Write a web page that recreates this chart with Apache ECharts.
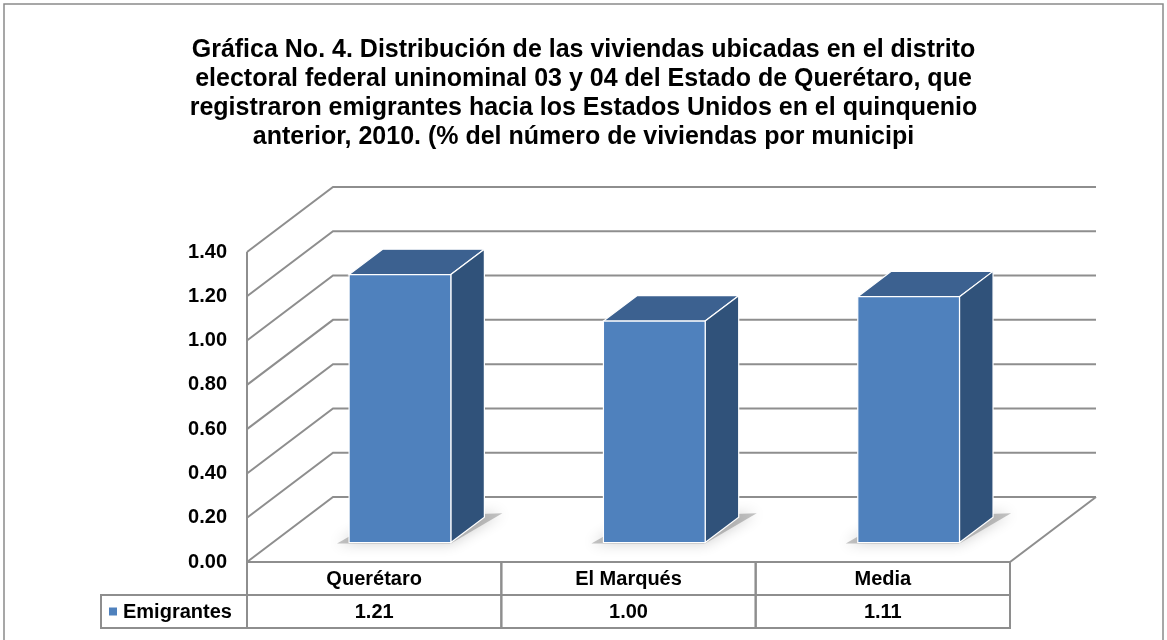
<!DOCTYPE html>
<html>
<head>
<meta charset="utf-8">
<title>Gráfica No. 4</title>
<script src="https://cdn.jsdelivr.net/npm/echarts@6/dist/echarts.min.js"></script>
<style>
  html, body { margin: 0; padding: 0; background: #fff; }
  #chart { width: 1167px; height: 640px; }
</style>
</head>
<body>
<div id="chart"></div>
<script>
// datos
const categories = ["Querétaro", "El Marqués", "Media"];
const emigrantes = [1.21, 1.00, 1.11];
const yTicks = [0, 0.2, 0.4, 0.6, 0.8, 1.0, 1.2, 1.4];
const seriesName = "Emigrantes";
const titleText = "Gráfica No. 4. Distribución de las viviendas ubicadas en el distrito\n" +
  "electoral federal uninominal 03 y 04 del Estado de Querétaro, que\n" +
  "registraron emigrantes hacia los Estados Unidos en el quinquenio\n" +
  "anterior, 2010. (% del número de viviendas por municipi";

// perspectiva (profundidad del piso)
const DX = 86, DY = -65;
const FRONT = 0.3, BACK = 0.69; // fraccion de profundidad de la barra
const GRID = "#8e8e8e";
const FONT = "Liberation Sans, Arial, sans-serif";
const ROW_H = 33;

const chart = echarts.init(document.getElementById("chart"));

// paredes y lineas de division
function renderWall(params, api) {
  const v = api.value(1);
  const cs = params.coordSys;
  const L = cs.x, R = cs.x + cs.width;
  const y = api.coord([0, v])[1];
  const line = {stroke: GRID, lineWidth: 2, fill: null};
  const children = [{
    type: "polyline",
    shape: {points: [[L, y], [L + DX, y + DY], [R + DX, y + DY]]},
    style: line
  }];
  if (v === 0) {
    children.push({type: "polyline", shape: {points: [[L, y], [R, y], [R + DX, y + DY]]}, style: line});
  }
  if (params.dataIndex === yTicks.length - 1) {
    const y0 = api.coord([0, 0])[1];
    children.push({type: "line", shape: {x1: L, y1: y, x2: L, y2: y0}, style: line});
  }
  return {type: "group", children: children};
}

// barras 3D
function renderBar(params, api) {
  const i = api.value(0);
  const v = api.value(1);
  const base = api.coord([i, 0]);
  const top = api.coord([i, v]);
  const band = api.size([1, 0])[0];
  const w = band * 0.4;
  const xl = base[0] - w / 2 + DX * FRONT;
  const xr = base[0] + w / 2 + DX * FRONT;
  const yb = base[1] + DY * FRONT;
  const yt = top[1] + DY * FRONT;
  const ddx = DX * (BACK - FRONT), ddy = DY * (BACK - FRONT);
  const edge = {stroke: "#ffffff", lineWidth: 1.2};
  return {
    type: "group",
    children: [
      {
        type: "polygon",
        z2: 0,
        shape: {points: [[xl - 12, yb + 1], [xr, yb + 1], [xr + ddx + 18, yb + ddy - 4], [xl + ddx, yb + ddy]]},
        style: {fill: "rgba(90,90,90,0.35)", shadowBlur: 14, shadowColor: "rgba(0,0,0,0.55)"}
      },
      {
        type: "polygon",
        z2: 1,
        shape: {points: [[xl, yt], [xr, yt], [xr + ddx, yt + ddy], [xl + ddx, yt + ddy]]},
        style: Object.assign({fill: "#3c6190"}, edge)
      },
      {
        type: "polygon",
        z2: 1,
        shape: {points: [[xr, yt], [xr + ddx, yt + ddy], [xr + ddx, yb + ddy], [xr, yb]]},
        style: Object.assign({fill: "#30527a"}, edge)
      },
      {
        type: "rect",
        z2: 2,
        shape: {x: xl, y: yt, width: xr - xl, height: yb - yt},
        style: Object.assign({fill: "#4f81bd"}, edge)
      }
    ]
  };
}

// tabla de datos bajo el eje
function renderTable(params, api) {
  const i = api.value(0);
  const v = api.value(1);
  const c = api.coord([i, 0]);
  const band = api.size([1, 0])[0];
  const x = c[0] - band / 2;
  const y = c[1];
  const cell = {fill: null, stroke: GRID, lineWidth: 2};
  const txt = {fill: "#000", font: "bold 20px " + FONT, align: "center", verticalAlign: "middle"};
  const children = [
    {type: "rect", shape: {x: x, y: y, width: band, height: ROW_H}, style: cell},
    {type: "rect", shape: {x: x, y: y + ROW_H, width: band, height: ROW_H}, style: cell},
    {type: "text", style: Object.assign({text: categories[i], x: x + band / 2, y: y + ROW_H / 2 + 1}, txt)},
    {type: "text", style: Object.assign({text: v.toFixed(2), x: x + band / 2, y: y + ROW_H * 1.5 + 1}, txt)}
  ];
  if (i === 0) {
    const lx = 101;
    children.push(
      {type: "rect", shape: {x: lx, y: y + ROW_H, width: x - lx, height: ROW_H}, style: cell},
      {type: "rect", shape: {x: lx + 8, y: y + ROW_H * 1.5 - 4, width: 8, height: 8}, style: {fill: "#4f81bd"}},
      {type: "text", style: Object.assign({}, txt, {text: seriesName, x: lx + 22, y: y + ROW_H * 1.5 + 1, align: "left"})}
    );
  }
  return {type: "group", children: children};
}

chart.setOption({
  backgroundColor: "#ffffff",
  animation: false,
  title: {
    text: titleText,
    left: "center",
    top: 31,
    textStyle: {fontFamily: FONT, fontWeight: "bold", fontSize: 25, lineHeight: 29, color: "#000"}
  },
  graphic: [{
    type: "rect",
    shape: {x: 4, y: 4, width: 1159, height: 660},
    style: {fill: null, stroke: "#8a8a8a", lineWidth: 1.5},
    silent: true
  }],
  grid: {left: 247, right: 157, top: 252, bottom: 78},
  xAxis: {
    type: "category",
    data: categories,
    axisLine: {show: false},
    axisTick: {show: false},
    axisLabel: {show: false},
    splitLine: {show: false}
  },
  yAxis: {
    type: "value",
    min: 0,
    max: 1.4,
    interval: 0.2,
    axisLine: {show: false},
    axisTick: {show: false},
    splitLine: {show: false},
    axisLabel: {
      margin: 20,
      color: "#000",
      fontFamily: FONT,
      fontWeight: "bold",
      fontSize: 20,
      formatter: function (v) { return v.toFixed(2); }
    }
  },
  series: [
    {
      type: "custom",
      name: "grid",
      z: 1,
      clip: false,
      silent: true,
      renderItem: renderWall,
      data: yTicks.map(function (v) { return [0, v]; })
    },
    {
      type: "custom",
      name: seriesName,
      z: 3,
      clip: false,
      renderItem: renderBar,
      data: emigrantes.map(function (v, i) { return [i, v]; })
    },
    {
      type: "custom",
      name: "tabla",
      z: 4,
      clip: false,
      silent: true,
      renderItem: renderTable,
      data: emigrantes.map(function (v, i) { return [i, v]; })
    }
  ]
});
</script>
</body>
</html>
